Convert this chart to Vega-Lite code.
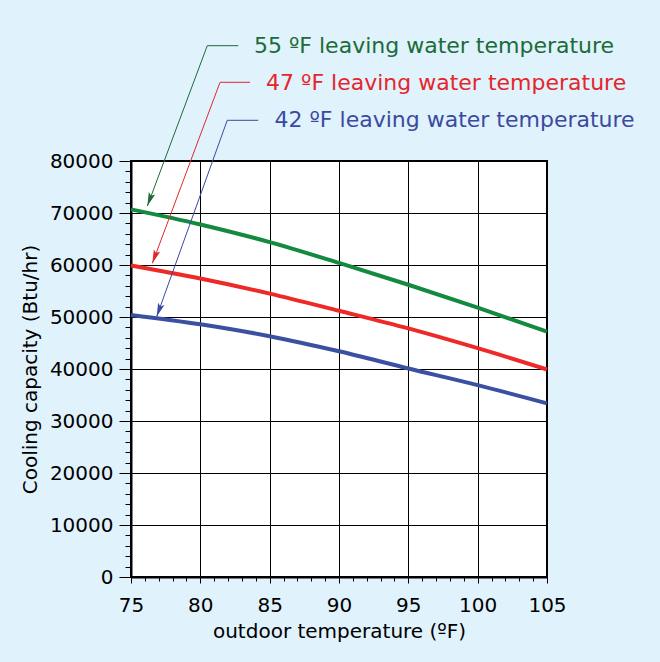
{
  "$schema": "https://vega.github.io/schema/vega-lite/v6.json",
  "width": 416,
  "height": 416,
  "autosize": "none",
  "padding": {"left": 131, "top": 161, "right": 113, "bottom": 85},
  "background": "#e0f2fc",
  "config": {
    "view": {"fill": "white", "stroke": "black", "strokeWidth": 2},
    "axis": {
      "labelFont": "DejaVu Sans", "labelFontSize": 20, "labelColor": "black",
      "titleFont": "DejaVu Sans", "titleFontSize": 20, "titleFontWeight": "normal", "titleColor": "black",
      "tickColor": "black", "domainColor": "black", "domainWidth": 2, "gridColor": "black", "gridWidth": 1, "gridOpacity": 1,
      "labelFlush": false, "labelOverlap": false
    }
  },
  "resolve": {"scale": {"color": "independent"}, "axis": {"x": "independent", "y": "independent"}},
  "datasets": {
    "curves": [
      {"series": "55", "temp": 75, "cap": 70700},
      {"series": "55", "temp": 80, "cap": 67800},
      {"series": "55", "temp": 85, "cap": 64400},
      {"series": "55", "temp": 90, "cap": 60400},
      {"series": "55", "temp": 95, "cap": 56200},
      {"series": "55", "temp": 100, "cap": 51800},
      {"series": "55", "temp": 105, "cap": 47200},
      {"series": "47", "temp": 75, "cap": 59900},
      {"series": "47", "temp": 80, "cap": 57400},
      {"series": "47", "temp": 85, "cap": 54500},
      {"series": "47", "temp": 90, "cap": 51200},
      {"series": "47", "temp": 95, "cap": 47800},
      {"series": "47", "temp": 100, "cap": 44000},
      {"series": "47", "temp": 105, "cap": 39900},
      {"series": "42", "temp": 75, "cap": 50400},
      {"series": "42", "temp": 80, "cap": 48600},
      {"series": "42", "temp": 85, "cap": 46300},
      {"series": "42", "temp": 90, "cap": 43400},
      {"series": "42", "temp": 95, "cap": 40100},
      {"series": "42", "temp": 100, "cap": 36900},
      {"series": "42", "temp": 105, "cap": 33400}
    ],
    "leaders": [
      {"series": "55", "k": 1, "temp": 82.74, "cap": 102173},
      {"series": "55", "k": 2, "temp": 80.50, "cap": 102173},
      {"series": "55", "k": 3, "temp": 76.18, "cap": 71346},
      {"series": "47", "k": 1, "temp": 83.58, "cap": 95135},
      {"series": "47", "k": 2, "temp": 81.42, "cap": 95135},
      {"series": "47", "k": 3, "temp": 76.54, "cap": 60327},
      {"series": "42", "k": 1, "temp": 84.18, "cap": 87827},
      {"series": "42", "k": 2, "temp": 81.94, "cap": 87827},
      {"series": "42", "k": 3, "temp": 76.85, "cap": 50058}
    ],
    "tips": [
      {"series": "55", "temp": 76.18, "cap": 71346},
      {"series": "47", "temp": 76.54, "cap": 60327},
      {"series": "42", "temp": 76.85, "cap": 50058}
    ],
    "labels": [
      {"series": "55", "temp": 83.87, "cap": 100827, "text": "55 ºF leaving water temperature"},
      {"series": "47", "temp": 84.74, "cap": 93654, "text": "47 ºF leaving water temperature"},
      {"series": "42", "temp": 85.35, "cap": 86481, "text": "42 ºF leaving water temperature"}
    ]
  },
  "layer": [
    {
      "data": {"name": "curves"},
      "mark": {"type": "line", "strokeWidth": 4, "interpolate": "monotone"},
      "encoding": {
        "x": {"field": "temp", "type": "quantitative",
              "scale": {"domain": [75, 105], "nice": false, "zero": false},
              "axis": {"orient": "bottom", "values": [75, 80, 85, 90, 95, 100, 105], "grid": true, "tickSize": 6, "labelPadding": 12,
                       "title": "outdoor temperature (ºF)", "titleBaseline": "alphabetic", "titleX": 208, "titleY": 60.7}},
        "y": {"field": "cap", "type": "quantitative",
              "scale": {"domain": [0, 80000], "nice": false},
              "axis": {"orient": "left", "values": [0, 10000, 20000, 30000, 40000, 50000, 60000, 70000, 80000], "grid": true, "tickSize": 12, "labelPadding": 6, "format": "d",
                       "title": "Cooling capacity (Btu/hr)", "titleBaseline": "alphabetic", "titleX": -95, "titleY": 208}},
        "color": {"field": "series", "type": "nominal",
                  "scale": {"domain": ["55", "47", "42"], "range": ["#138a3f", "#ee2a28", "#3b4fa3"]}, "legend": null}
      }
    },
    {
      "data": {"name": "leaders"},
      "mark": {"type": "line", "strokeWidth": 1},
      "encoding": {
        "x": {"field": "temp", "type": "quantitative",
              "axis": {"orient": "bottom", "values": [75,76,77,78,79,80,81,82,83,84,85,86,87,88,89,90,91,92,93,94,95,96,97,98,99,100,101,102,103,104,105],
                       "grid": false, "domain": false, "labels": false, "tickSize": 4, "title": null}},
        "y": {"field": "cap", "type": "quantitative",
              "axis": {"orient": "left", "values": [0,2000,4000,6000,8000,10000,12000,14000,16000,18000,20000,22000,24000,26000,28000,30000,32000,34000,36000,38000,40000,42000,44000,46000,48000,50000,52000,54000,56000,58000,60000,62000,64000,66000,68000,70000,72000,74000,76000,78000,80000],
                       "grid": false, "domain": false, "labels": false, "tickSize": 6, "title": null}},
        "order": {"field": "k", "type": "quantitative"},
        "color": {"field": "series", "type": "nominal",
                  "scale": {"domain": ["55", "47", "42"], "range": ["#1c6b39", "#e4262c", "#3b4aa0"]}, "legend": null}
      }
    },
    {
      "data": {"name": "tips"},
      "mark": {"type": "point", "filled": true, "opacity": 1, "size": 46, "angle": 20, "shape": "M0,0L-1,-4L0,-3.2L1,-4Z"},
      "encoding": {
        "x": {"field": "temp", "type": "quantitative", "axis": null},
        "y": {"field": "cap", "type": "quantitative", "axis": null},
        "color": {"field": "series", "type": "nominal",
                  "scale": {"domain": ["55", "47", "42"], "range": ["#1c6b39", "#e4262c", "#3b4aa0"]}, "legend": null}
      }
    },
    {
      "data": {"name": "labels"},
      "mark": {"type": "text", "font": "DejaVu Sans", "fontSize": 22, "align": "left", "baseline": "alphabetic"},
      "encoding": {
        "x": {"field": "temp", "type": "quantitative", "axis": null},
        "y": {"field": "cap", "type": "quantitative", "axis": null},
        "text": {"field": "text", "type": "nominal"},
        "color": {"field": "series", "type": "nominal",
                  "scale": {"domain": ["55", "47", "42"], "range": ["#1c6b39", "#e4262c", "#3b4aa0"]}, "legend": null}
      }
    }
  ]
}
